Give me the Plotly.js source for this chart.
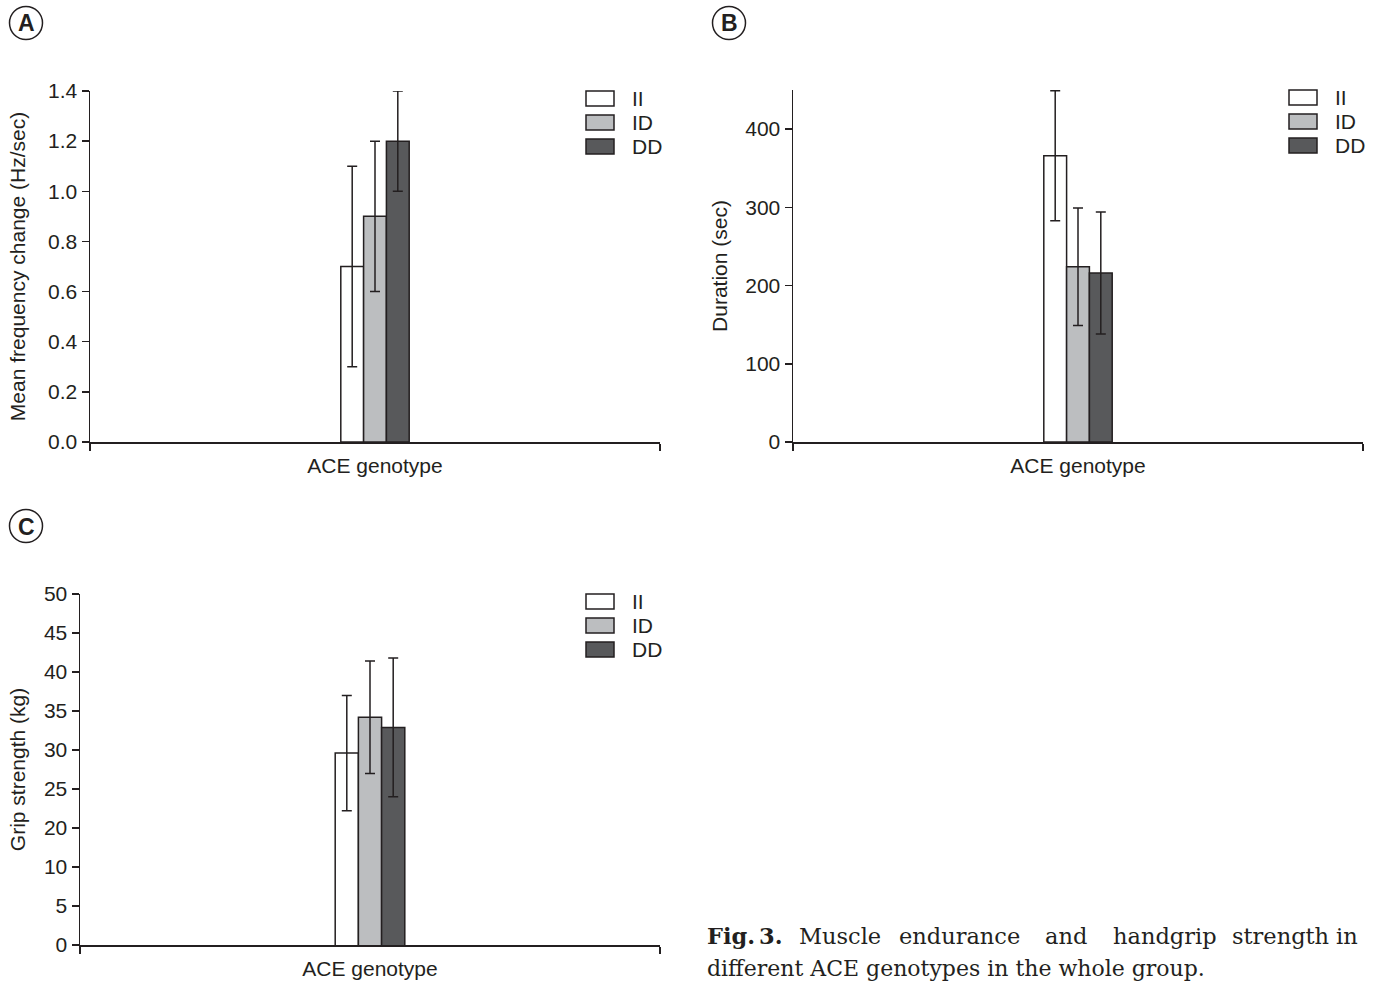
<!DOCTYPE html>
<html>
<head>
<meta charset="utf-8">
<script src="https://cdn.plot.ly/plotly-3.0.1.min.js"></script>
<style>html,body{margin:0;padding:0;background:#fff;}#chart{width:1378px;height:982px;}</style>
</head>
<body>
<div id="chart"></div>
<script>
// ---- data ----
const categories = ['ACE genotype'];
const seriesNames = ['II', 'ID', 'DD'];
const seriesColors = ['#ffffff', '#bcbec0', '#58595b'];

// Panel A: mean frequency change (Hz/sec)
const freqMean = [0.70, 0.90, 1.20];
const freqSD = [0.40, 0.30, 0.20];

// Panel B: duration (sec)
const durMean = [366, 224, 216];
const durSD = [83, 75, 78];

// Panel C: grip strength (kg)
const gripMean = [29.6, 34.2, 32.9];
const gripSD = [7.4, 7.2, 8.9];
const gripTickText = ['0', '5', '10', '20', '25', '30', '35', '40', '45', '50'];
const gripTickVals = [5, 10, 15, 20, 25, 30, 35, 40, 45, 50];

const panelTitles = ['A', 'B', 'C'];
const yTitles = ['Mean frequency change (Hz/sec)', 'Duration (sec)', 'Grip strength (kg)'];
const captionLine1 = ['Fig.', '3.', 'Muscle', 'endurance', 'and', 'handgrip', 'strength', 'in'];
const captionLine2 = 'different ACE genotypes in the whole group.';

// ---- layout helpers ----
const W = 1378, H = 982;
const fx = p => p / W;
const fy = p => 1 - p / H;
const INK = '#231f20';
const SANS = 'Liberation Sans, Arial, sans-serif';
const SERIF = 'DejaVu Serif, serif';

const panels = [
  {mean: freqMean, sd: freqSD, xa: 'x', ya: 'y', L: 90, R: 660, T: 91, B: 442, standoff: 16},
  {mean: durMean, sd: durSD, xa: 'x2', ya: 'y2', L: 793, R: 1363, T: 90, B: 442, standoff: 12},
  {mean: gripMean, sd: gripSD, xa: 'x3', ya: 'y3', L: 80, R: 660, T: 594, B: 945, standoff: 12}
];

const traces = [];
panels.forEach((p, pi) => {
  seriesNames.forEach((name, si) => {
    traces.push({
      type: 'bar',
      name: name,
      x: categories,
      y: [p.mean[si]],
      xaxis: p.xa,
      yaxis: p.ya,
      showlegend: false,
      marker: {color: seriesColors[si], line: {color: INK, width: 1.5}},
      error_y: {type: 'data', array: [p.sd[si]], visible: true, color: INK, thickness: 1.5, width: 5},
      hoverinfo: 'name+y'
    });
  });
});

function xAxis(p) {
  return {
    domain: [fx(p.L), fx(p.R)],
    type: 'category',
    range: [-0.5, 0.5],
    tickson: 'boundaries',
    ticks: 'outside', ticklen: 7, tickwidth: 1.5, tickcolor: INK,
    ticklabelstandoff: 4,
    showline: true, linecolor: INK, linewidth: 1.5,
    showgrid: false, zeroline: false,
    tickfont: {family: SANS, size: 21, color: INK},
    fixedrange: true
  };
}
function yAxis(p, extra, title, anchor) {
  return Object.assign({
    domain: [fy(p.B), fy(p.T)],
    anchor: anchor,
    ticks: 'outside', ticklen: 7, tickwidth: 1.5, tickcolor: INK,
    showline: true, linecolor: INK, linewidth: 1.5,
    showgrid: false, zeroline: false,
    tickfont: {family: SANS, size: 21, color: INK},
    title: {text: title, font: {family: SANS, size: 21, color: INK}, standoff: p.standoff},
    fixedrange: true
  }, extra);
}

const layout = {
  width: W, height: H,
  margin: {l: 0, r: 0, t: 0, b: 0, pad: 0},
  paper_bgcolor: '#ffffff', plot_bgcolor: 'rgba(0,0,0,0)',
  barmode: 'group', bargap: 0.88, bargroupgap: 0,
  showlegend: false,
  xaxis: Object.assign(xAxis(panels[0]), {anchor: 'y'}),
  yaxis: yAxis(panels[0], {range: [0, 1.4], dtick: 0.2, tickformat: '.1f'}, yTitles[0], 'x'),
  xaxis2: Object.assign(xAxis(panels[1]), {anchor: 'y2'}),
  yaxis2: yAxis(panels[1], {range: [0, 450], tickmode: 'array', tickvals: [0, 100, 200, 300, 400]}, yTitles[1], 'x2'),
  xaxis3: Object.assign(xAxis(panels[2]), {anchor: 'y3'}),
  yaxis3: yAxis(panels[2], {range: [5, 50], tickmode: 'array', tickvals: gripTickVals, ticktext: gripTickText}, yTitles[2], 'x3'),
  shapes: [],
  annotations: []
};

// legends (drawn as boxes + labels next to each panel)
panels.forEach(p => {
  seriesNames.forEach((name, si) => {
    const top = p.T + si * 24;
    layout.shapes.push({
      type: 'rect', xref: 'paper', yref: 'paper',
      x0: fx(p.R - 74), x1: fx(p.R - 46), y0: fy(top + 15), y1: fy(top),
      fillcolor: seriesColors[si], line: {color: INK, width: 1.5}
    });
    layout.annotations.push({
      xref: 'paper', yref: 'paper', x: fx(p.R - 30), y: fy(top + 7.5),
      xanchor: 'left', yanchor: 'middle', showarrow: false,
      text: name, font: {family: SANS, size: 21, color: INK}
    });
  });
});

// panel letters in circles
const letterPos = [[26, 23], [729, 23], [26, 526]];
panelTitles.forEach((t, i) => {
  const [cx, cy] = letterPos[i];
  layout.shapes.push({
    type: 'circle', xref: 'paper', yref: 'paper',
    x0: fx(cx - 16.5), x1: fx(cx + 16.5), y0: fy(cy + 16.5), y1: fy(cy - 16.5),
    line: {color: INK, width: 1.5}, fillcolor: 'rgba(0,0,0,0)'
  });
  layout.annotations.push({
    xref: 'paper', yref: 'paper', x: fx(cx), y: fy(cy + 0.5),
    xanchor: 'center', yanchor: 'middle', showarrow: false,
    text: '<b>' + t + '</b>', font: {family: SANS, size: 23, color: INK}
  });
});

// caption
const line1X = [705, 757, 797, 897, 1043, 1111, 1230, 1334];
captionLine1.forEach((w, i) => {
  layout.annotations.push({
    xref: 'paper', yref: 'paper', x: fx(line1X[i]), y: fy(936),
    xanchor: 'left', yanchor: 'middle', showarrow: false,
    text: i < 2 ? '<b>' + w + '</b>' : w,
    font: {family: SERIF, size: 22.5, color: INK}
  });
});
layout.annotations.push({
  xref: 'paper', yref: 'paper', x: fx(705), y: fy(968),
  xanchor: 'left', yanchor: 'middle', showarrow: false,
  text: captionLine2, font: {family: SERIF, size: 22, color: INK}
});

Plotly.newPlot('chart', traces, layout, {displayModeBar: false, staticPlot: true});
</script>
</body>
</html>
